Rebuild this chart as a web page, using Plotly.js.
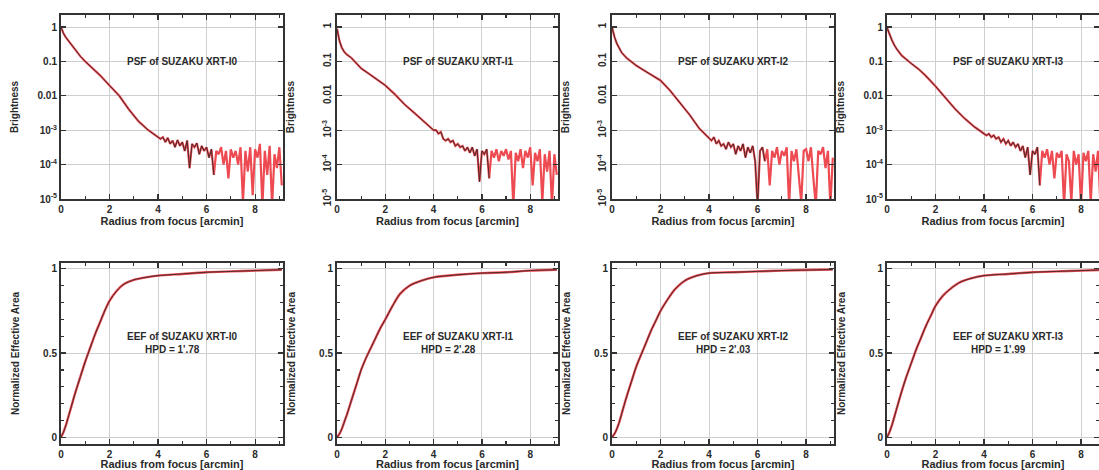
<!DOCTYPE html>
<html>
<head>
<meta charset="utf-8">
<script src="https://cdn.plot.ly/plotly-3.0.1.min.js"></script>
<style>html,body{margin:0;padding:0;background:#fff;}#chart{width:1099px;height:470px;}</style>
</head>
<body>
<div id="chart"></div>
<script>
// ---------------- data ----------------
const mirrorNames = ["XRT-I0", "XRT-I1", "XRT-I2", "XRT-I3"];
const hpdLabels = ["1'.78", "2'.28", "2'.03", "1'.99"];

const psfRadius = [0, 0.05, 0.1, 0.2, 0.3, 0.4, 0.6, 0.8, 1.0, 1.3, 1.6, 2.0, 2.4, 2.8, 3.2, 3.6, 4.0,
  4.1, 4.2, 4.3, 4.4, 4.5, 4.6, 4.7, 4.8, 4.9, 5.0, 5.1, 5.2, 5.3, 5.4, 5.5, 5.6, 5.7, 5.8, 5.9, 6.0,
  6.1, 6.2, 6.3, 6.4, 6.5, 6.6, 6.7, 6.8, 6.9, 7.0, 7.1, 7.2, 7.3, 7.4, 7.5, 7.6, 7.7, 7.8, 7.9, 8.0,
  8.1, 8.2, 8.3, 8.4, 8.5, 8.6, 8.7, 8.8, 8.9, 9.0, 9.1];

const psfI0 = [1, 0.79, 0.66, 0.50, 0.40, 0.32, 0.21, 0.14, 0.1, 0.063, 0.040, 0.020, 0.010, 0.0040, 0.0018, 0.001, 6.3e-4,
  5.6e-4, 6.3e-4, 4.5e-4, 6.0e-4, 4.0e-4, 5.0e-4, 3.2e-4, 5.2e-4, 3.5e-4, 4.5e-4, 2.5e-4, 5.0e-4, 7.9e-5, 4.0e-4, 3.2e-4, 4.2e-4, 2.0e-4, 3.5e-4, 2.5e-4, 3.2e-4,
  1.6e-4, 2.8e-4, 5.0e-5, 2.5e-4, 2.0e-4, 3.2e-4, 1.0e-4, 2.5e-4, 4.0e-5, 2.8e-4, 1.6e-4, 2.5e-4, 1.0e-4, 3.2e-4, 7.9e-6, 2.5e-4, 6.3e-5, 3.2e-4, 1.3e-5, 2.8e-4,
  1.6e-4, 4.0e-4, 6.3e-6, 2.5e-4, 5.0e-5, 3.5e-4, 6.3e-6, 2.0e-4, 7.9e-5, 3.2e-4, 2.5e-5];

const psfI1 = [0.89, 0.56, 0.40, 0.25, 0.19, 0.16, 0.126, 0.089, 0.063, 0.045, 0.032, 0.020, 0.011, 0.0056, 0.0032, 0.0018, 0.001,
  1.0e-3, 7.9e-4, 8.9e-4, 5.6e-4, 5.0e-4, 5.6e-4, 4.5e-4, 5.0e-4, 3.5e-4, 4.0e-4, 3.2e-4, 3.5e-4, 2.5e-4, 3.2e-4, 2.2e-4, 3.2e-4, 1.8e-4, 2.8e-4, 3.2e-5, 2.5e-4,
  2.0e-4, 2.8e-4, 4.0e-5, 2.5e-4, 1.6e-4, 2.8e-4, 1.26e-4, 2.5e-4, 1.8e-4, 2.8e-4, 1.4e-4, 2.5e-4, 6.3e-6, 2.2e-4, 1.26e-4, 2.8e-4, 7.9e-5, 2.5e-4, 1.6e-4, 3.2e-4,
  2.5e-5, 2.2e-4, 1.26e-4, 2.8e-4, 7.9e-6, 2.0e-4, 6.3e-5, 2.5e-4, 6.3e-6, 2.0e-4, 5.0e-5];

const psfI2 = [1, 0.71, 0.52, 0.33, 0.24, 0.18, 0.126, 0.095, 0.076, 0.056, 0.042, 0.028, 0.014, 0.0063, 0.0028, 0.00112, 5.6e-4,
  5.0e-4, 6.3e-4, 4.0e-4, 5.0e-4, 3.5e-4, 4.0e-4, 2.8e-4, 4.5e-4, 3.2e-4, 4.0e-4, 2.0e-4, 3.5e-4, 2.5e-4, 4.0e-4, 1.6e-4, 3.2e-4, 2.2e-4, 3.5e-4, 1.26e-4, 6.3e-6,
  2.5e-4, 3.2e-4, 1.26e-4, 2.8e-4, 2.5e-5, 2.5e-4, 1.6e-4, 3.2e-4, 1.0e-4, 2.5e-4, 1.8e-4, 3.2e-4, 6.3e-6, 2.5e-4, 1.26e-4, 2.8e-4, 5.0e-5, 7.9e-6, 2.5e-4, 2.8e-4,
  1.26e-4, 3.2e-4, 4.0e-5, 6.3e-6, 2.5e-4, 2.0e-4, 3.2e-4, 7.9e-5, 2.5e-4, 6.3e-6, 1.6e-4];

const psfI3 = [0.955, 0.76, 0.60, 0.42, 0.30, 0.23, 0.15, 0.112, 0.087, 0.060, 0.038, 0.019, 0.0089, 0.0042, 0.0022, 0.00126, 7.9e-4,
  7.1e-4, 7.9e-4, 6.3e-4, 7.1e-4, 5.6e-4, 6.3e-4, 4.5e-4, 5.6e-4, 4.0e-4, 5.0e-4, 3.5e-4, 4.5e-4, 3.2e-4, 4.0e-4, 2.5e-4, 3.5e-4, 1.6e-4, 3.2e-4, 5.0e-5, 2.5e-4,
  2.0e-4, 3.2e-4, 2.5e-5, 2.5e-4, 1.6e-4, 2.8e-4, 1.0e-4, 2.5e-4, 4.0e-5, 2.2e-4, 1.6e-4, 2.5e-4, 6.3e-6, 2.0e-4, 1.26e-4, 7.9e-6, 2.5e-4, 1.0e-4, 2.0e-4, 6.3e-6,
  2.2e-4, 1.26e-4, 2.5e-4, 7.9e-6, 2.0e-4, 6.3e-5, 2.5e-4, 6.3e-6, 1.6e-4, 1.0e-4, 2.0e-4];

const eefRadius = [0, 0.1, 0.2, 0.3, 0.4, 0.6, 0.8, 1.0, 1.2, 1.4, 1.6, 1.8, 2.0, 2.3, 2.6, 3.0, 3.5, 4.0, 5.0, 6.0, 7.0, 8.0, 9.1];
const eefI0 = [0, 0.03, 0.07, 0.12, 0.17, 0.27, 0.36, 0.45, 0.53, 0.61, 0.68, 0.75, 0.81, 0.87, 0.91, 0.935, 0.95, 0.96, 0.97, 0.98, 0.985, 0.99, 0.995];
const eefI1 = [0, 0.02, 0.05, 0.09, 0.13, 0.22, 0.31, 0.40, 0.47, 0.53, 0.59, 0.65, 0.70, 0.78, 0.85, 0.90, 0.93, 0.95, 0.965, 0.975, 0.98, 0.99, 0.995];
const eefI2 = [0, 0.02, 0.05, 0.09, 0.14, 0.24, 0.33, 0.42, 0.49, 0.56, 0.63, 0.69, 0.75, 0.82, 0.88, 0.93, 0.96, 0.975, 0.98, 0.985, 0.99, 0.993, 0.996];
const eefI3 = [0, 0.03, 0.07, 0.12, 0.17, 0.27, 0.36, 0.44, 0.52, 0.59, 0.66, 0.72, 0.78, 0.84, 0.88, 0.92, 0.945, 0.96, 0.97, 0.98, 0.985, 0.99, 0.995];

const psfTickVals = [1, 0.1, 0.01, 0.001, 0.0001, 0.00001];
const psfTickText = ["1", "0.1", "0.01", "10<sup>-3</sup>", "10<sup>-4</sup>", "10<sup>-5</sup>"];
const xTickVals = [0, 2, 4, 6, 8];

// ---------------- layout helpers ----------------
const W = 1099, H = 470;
const colPx = [[61, 283], [337, 558], [612, 834], [887, 1099]];
const xMax = [9.15, 9.15, 9.15, 8.74];
const topPx = [15, 199], botPx = [263, 444];
const psfSeries = [psfI0, psfI1, psfI2, psfI3];
const eefSeries = [eefI0, eefI1, eefI2, eefI3];
const brightStandoff = [17, 24, 24, 17];

const FONT = {family: "Liberation Sans, Arial, sans-serif", size: 10, color: "#2a2a2a", weight: 700};
const TFONT = {family: "Liberation Sans, Arial, sans-serif", size: 11, color: "#2a2a2a", weight: 700};
const RED = "#ee4a52", DARK = "#4a2a2a";

const traces = [];
const layout = {
  width: W, height: H, margin: {l: 0, r: 0, t: 0, b: 0},
  paper_bgcolor: "#fff", plot_bgcolor: "#fff", showlegend: false,
  font: FONT, annotations: []
};

function axBase() {
  return {
    showline: true, linecolor: "#333", linewidth: 2, mirror: "ticks",
    ticks: "inside", ticklen: 5, tickwidth: 1.2, tickcolor: "#333",
    showgrid: true, gridcolor: "#cfcfcf", gridwidth: 1, zeroline: false,
    tickfont: FONT, fixedrange: true
  };
}

for (let c = 0; c < 4; c++) {
  for (let r = 0; r < 2; r++) {
    const idx = r * 4 + c + 1;
    const xa = "x" + (idx === 1 ? "" : idx), ya = "y" + (idx === 1 ? "" : idx);
    const xk = "xaxis" + (idx === 1 ? "" : idx), yk = "yaxis" + (idx === 1 ? "" : idx);
    const py = r === 0 ? topPx : botPx;
    const xax = Object.assign(axBase(), {
      domain: [colPx[c][0] / W, colPx[c][1] / W],
      range: [0, xMax[c]], anchor: ya,
      tickvals: xTickVals, ticktext: xTickVals.map(String),
      minor: {ticks: "inside", ticklen: 3, tickcolor: "#333", dtick: 1, showgrid: false},
      title: {text: "Radius from focus [arcmin]", font: TFONT, standoff: 1}
    });
    const yax = Object.assign(axBase(), {
      domain: [1 - py[1] / H, 1 - py[0] / H], anchor: xa
    });
    if (r === 0) {
      Object.assign(yax, {
        type: "log", range: [-5, 0.35],
        tickvals: psfTickVals, ticktext: psfTickText,
        tickangle: (c === 1 || c === 2) ? -90 : 0,
        title: {text: "Brightness", font: FONT, standoff: brightStandoff[c]}
      });
      const y = psfSeries[c];
      traces.push({x: psfRadius, y: y, xaxis: xa, yaxis: ya, type: "scatter", mode: "lines",
        line: {color: RED, width: 2.2}, hoverinfo: "skip"});
      traces.push({x: psfRadius.slice(0, 40), y: y.slice(0, 40), xaxis: xa, yaxis: ya, type: "scatter", mode: "lines",
        line: {color: DARK, width: 1}, hoverinfo: "skip"});
      layout.annotations.push({xref: xa, yref: ya, x: 5, y: -1, text: "PSF of SUZAKU " + mirrorNames[c],
        showarrow: false, font: FONT});
    } else {
      Object.assign(yax, {
        range: [-0.04, 1.035],
        tickvals: [0, 0.5, 1], ticktext: ["0", "0.5", "1"],
        minor: {ticks: "inside", ticklen: 3, tickcolor: "#333", dtick: 0.1, showgrid: false},
        title: {text: "Normalized Effective Area", font: FONT, standoff: 22}
      });
      const y = eefSeries[c];
      traces.push({x: eefRadius, y: y, xaxis: xa, yaxis: ya, type: "scatter", mode: "lines",
        line: {color: RED, width: 2.4, shape: "spline", smoothing: 0.8}, hoverinfo: "skip"});
      traces.push({x: eefRadius, y: y, xaxis: xa, yaxis: ya, type: "scatter", mode: "lines",
        line: {color: DARK, width: 1, shape: "spline", smoothing: 0.8}, hoverinfo: "skip"});
      layout.annotations.push({xref: xa, yref: ya, x: 5, y: 0.6, text: "EEF of SUZAKU " + mirrorNames[c],
        showarrow: false, font: FONT});
      layout.annotations.push({xref: xa, yref: ya, x: 4.6, y: 0.52, text: "HPD = " + hpdLabels[c],
        showarrow: false, font: FONT});
    }
    layout[xk] = xax;
    layout[yk] = yax;
  }
}

Plotly.newPlot("chart", traces, layout, {staticPlot: true, displayModeBar: false});
</script>
</body>
</html>
